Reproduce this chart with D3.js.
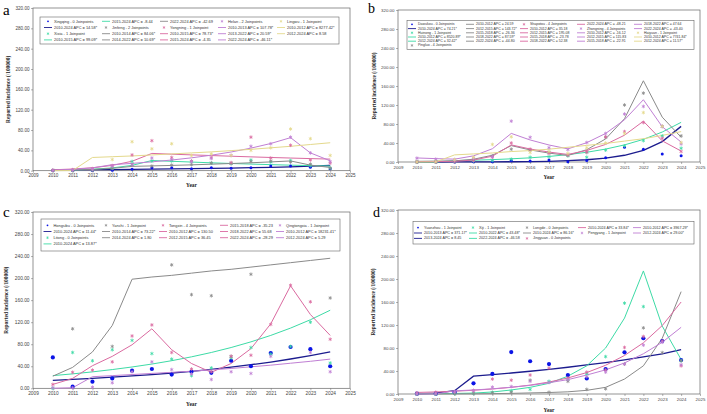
<!DOCTYPE html>
<html>
<head>
<meta charset="utf-8">
<script src="https://cdn.jsdelivr.net/npm/d3@7"></script>
<style>
  body { margin: 0; background: #fff; }
  svg { display: block; }
  text { font-family: "Liberation Sans", Arial, sans-serif; }
</style>
</head>
<body>
<svg id="chart" width="707" height="414"></svg>
<script>
let years = [2010, 2011, 2012, 2013, 2014, 2015, 2016, 2017, 2018, 2019, 2020, 2021, 2022, 2023, 2024]
let xTicks = [2009, 2010, 2011, 2012, 2013, 2014, 2015, 2016, 2017, 2018, 2019, 2020, 2021, 2022, 2023, 2024, 2025]
let yTicks = [0, 40, 80, 120, 160, 200, 240, 280, 320]

// panel a
let xingqingObs = [0.5, 0.5, 0.5, 1, 3, 6, 6, 4, 6, 5, 6, 9, 9, 7, 4]
let xingqingFit = [1.5, 1.7, 2.0, 2.3, 2.6, 3.0, 3.4, 3.9, 4.5, 5.1, 5.9, 6.7, 7.7, 8.9, 10.2]
let xixiaObs = [0.5, 0.5, 2, 5, 18, 19, 19, 18, 15, 14, 21, 17, 20, 10, 5]
let xixiaFit = [0.7, 1.4, 2.8, 5.5, 10.5, 20, 18.5, 17, 15.5, 14.2, 13, 11.9, 10.9, 10, 9.2]
let jinfengObs = [0.5, 0.5, 1, 4, 12, 9, 11, 12, 15, 14, 18, 19, 17, 13, 5]
let jinfengFit = [0.7, 1.4, 2.5, 4.6, 8.5, 9.4, 10.4, 11.5, 12.8, 14.1, 15.6, 17.3, 19.2, 11.0, 6.3]
let yongningObs = [1, 2, 4, 10, 31, 59, 26, 19, 26, 16, 66, 25, 50, 21, 15]
let yongningFit = [1.8, 3.3, 5.8, 10.4, 18.6, 34, 32.5, 31.1, 29.8, 28.5, 27.2, 26, 24.9, 23.8, 22.8]
let helanObs = [0.5, 1, 3, 9, 12, 25, 22, 18, 24, 30, 48, 53, 66, 35, 18]
let helanFit = [1.2, 2.6, 5.5, 11.9, 14.4, 17.4, 21.0, 25.3, 30.5, 36.8, 44.4, 53.5, 65, 35, 19.5]
let lingwuObs = [null, null, null, 22, 57, 43, 53, 30, 33, 30, 40, 45, 82, 63, 30]
let lingwuFit = [0, 0.3, 26, 27.5, 29, 31, 33, 35, 37, 39.5, 42, 45, 48, 51.5, 55]

// panel b
let dawukouObs = [0, 0, 0.2, 0.5, 0.5, 3, 2, 4, 0.5, 3, 9, 31, 27, 17, 13]
let dawukouFit = [0.03, 0.05, 0.1, 0.2, 0.3, 0.5, 0.9, 1.5, 2.7, 4.7, 8.1, 14.2, 24.7, 43, 75]
let huinongObs = [0, 0, 1, 2, 3, 6, 10, 11, 13, 10, 25, 34, 45, 55, 29]
let huinongFit = [0, 0.03, 2.9, 3.8, 5.0, 6.7, 8.8, 11.7, 15.5, 20.5, 27.2, 36, 47.6, 63.1, 83.5]
let pingluoObs = [0.7, 1, 2, 5, 13, 27, 25, 20, 14, 20, 52, 120, 145, 75, 55]
let pingluoFit = [1.4, 1.9, 2.4, 5.8, 14.2, 34.5, 25.4, 18.7, 13.8, 25.9, 48.6, 91.1, 171, 94.4, 52.1]
let shapotouObs = [0, 0, 1, 3, 10, 40, 27, 18, 15, 22, 53, 64, 83, 50, 22]
let shapotouFit = [0.8, 1.0, 1.4, 4.1, 12.2, 36, 27.4, 20.9, 15.9, 24.3, 37, 56.4, 85.9, 44.5, 23]
let zhongningObs = [8, 6, 5, 8, 11, 86, 52, 30, 26, 41, 60, 101, 117, 75, 38]
let zhongningFit = [8.5, 7.1, 6.0, 12.9, 27.9, 60.2, 46.4, 35.8, 27.6, 40.7, 60.1, 88.8, 131.1, 74.2, 42.0]
let haiyuanObs = [0, 0.5, 5, 10, 37, 53, 20, 22, 18, 30, 40, 60, 104, 75, 41]
let haiyuanFit = [0, 0.2, 15, 17, 19, 22, 24, 27, 31, 35, 39, 44, 49, 56, 64]

// panel c
let hongsibuObs = [56, 3, 12, 18, 32, 35, 25, 30, 28, 50, 40, 64, 75, 71, 40]
let hongsibuFit = [14.5, 16.2, 18, 20.1, 22.4, 24.9, 27.8, 30.9, 34.5, 38.4, 42.8, 47.7, 53.2, 59.2, 66]
let litongObs = [0, 65, 50, 70, 87, 63, 53, 23, 37, 55, 74, 62, 76, 120, 46]
let litongFit = [23, 26.2, 29.8, 34, 38.7, 44, 50.1, 57.1, 65, 74, 84.3, 96, 109.3, 124.4, 141.7]
let yanchiObs = [null, 108, null, 76, null, null, 224, 170, 168, 58, 207, null, null, null, 164]
let yanchiFit = [22, 38, 66, 114, 198, 202, 205, 209, 213, 216, 220, 224, 228, 232, 236]
let tongxinObs = [7, 29, 33, 48, 95, 115, 65, 35, 30, 58, 60, 116, 187, 157, 89]
let tongxinFit = [7, 18, 41, 58, 79, 108, 70, 45, 29, 45, 72, 117, 186, 134, 96]
let qingtongxiaObs = [1, 1, 2, 10, 30, 48, 34, 26, 16, 30, 27, 58, null, 65, 30]
let qingtongxiaFit = [0.1, 1, 21, 23, 25, 27, 29, 31, 33.5, 36, 39, 42, 45.5, 49, 53]

// panel d
let yuanzhouObs = [0.5, 0.5, 3, 18.6, 35, 73, 57, 52, 33, 27, 43.5, 72.5, 97, 92, 59]
let yuanzhouFit = [0.3, 1.5, 5.8, 31, 33.6, 36.5, 39.6, 42.9, 46.5, 50.5, 54.7, 59.4, 64.4, 69.8, 77]
let xijiObs = [0, 0, 0.5, 1, 3, 5, 8, 22, 25, 35, 65, 158, 152, null, 58]
let xijiFit = [0.3, 0.5, 0.9, 1.6, 3.5, 7, 11.6, 18.6, 31, 49, 80, 132, 214, 118, 60]
let longdeObs = [0, 0, 0.5, 1, 2, 3, 24, 3, 22, 8, 9, 52, 115, 72, 58]
let longdeFit = [0.05, 0.1, 0.2, 0.3, 0.6, 1.1, 1.9, 2.6, 3.8, 6.4, 11.6, 26, 49, 97, 178]
let jingyuanObs = [2, 3, 4, 6, 26, 24, 33, 45, 28, 38, 42, 81, 100, 92, 49]
let jingyuanFit = [2.7, 3.6, 4.8, 6.5, 8.7, 11.6, 15.5, 20.8, 27.9, 37.3, 50, 67, 89, 119, 160]
let pengyangObs = [0, 0.5, 4, 6, 12, 13, 22, 20, 25, 30, 38, 52, 85, 90, 51]
let pengyangFit = [0.003, 0.1, 5.5, 7, 9, 11.8, 15, 19.6, 25, 33, 42, 54, 70, 90, 116]

// legends: [kind, colour index, text], one array per column
let legendA = [
    [['dot', 0, 'Xingqing - 0 Joinpoints'], ['line', 0, '2010-2024 APC =  14.58*'], ['star', 1, 'Xixia - 1 Joinpoint'], ['line', 1, '2010-2015 APC =  99.09*']],
    [['line', 1, '2015-2024 APC =  -8.44'], ['star', 2, 'Jinfeng - 2 Joinpoints'], ['line', 2, '2010-2014 APC =  84.06*'], ['line', 2, '2014-2022 APC =  10.69*']],
    [['line', 2, '2022-2024 APC =  -42.69'], ['star', 3, 'Yongning - 1 Joinpoint'], ['line', 3, '2010-2015 APC =  78.73*'], ['line', 3, '2015-2024 APC =  -4.35']],
    [['star', 4, 'Helan - 2 Joinpoints'], ['line', 4, '2010-2013 APC =  107.78*'], ['line', 4, '2013-2022 APC =  20.59*'], ['line', 4, '2022-2024 APC =  -46.11*']],
    [['star', 5, 'Lingwu - 1 Joinpoint'], ['line', 5, '2010-2012 APC =  8277.42*'], ['line', 5, '2012-2024 APC =   8.58']]
]
let legendB = [
    [['dot', 0, 'Dawukou - 0 Joinpoints'], ['line', 0, '2010-2024 APC =  74.21*'], ['star', 1, 'Huinong - 1 Joinpoint'], ['line', 1, '2010-2012 APC =  8520.89*'], ['line', 1, '2012-2024 APC =  32.42*'], ['star', 2, 'Pingluo - 4 Joinpoints']],
    [['line', 2, '2010-2012 APC =  24.59'], ['line', 2, '2012-2015 APC =  143.72*'], ['line', 2, '2015-2018 APC =  -26.36'], ['line', 2, '2018-2022 APC =  87.59*'], ['line', 2, '2022-2024 APC =  -44.80']],
    [['star', 3, 'Shapotou - 4 Joinpoints'], ['line', 3, '2010-2012 APC =  35.18'], ['line', 3, '2012-2015 APC =  195.08'], ['line', 3, '2015-2018 APC =  -23.78'], ['line', 3, '2018-2022 APC =  52.38']],
    [['line', 3, '2022-2024 APC =  -48.21'], ['star', 4, 'Zhongning - 4 Joinpoints'], ['line', 4, '2010-2012 APC =  -16.12'], ['line', 4, '2012-2015 APC =  115.83'], ['line', 4, '2015-2018 APC =  -22.91']],
    [['line', 4, '2018-2022 APC =  47.64'], ['line', 4, '2022-2024 APC =  -43.40'], ['star', 5, 'Haiyuan - 1 Joinpoint'], ['line', 5, '2010-2012 APC =  7741.84*'], ['line', 5, '2012-2024 APC =  11.57*']]
]
let legendC = [
    [['dot', 0, 'Hongsibu - 0 Joinpoints'], ['line', 0, '2010-2024 APC =  11.44*'], ['star', 1, 'Litong - 0 Joinpoints'], ['line', 1, '2010-2024 APC =  13.87*']],
    [['star', 2, 'Yanchi - 1 Joinpoint'], ['line', 2, '2010-2014 APC =  73.22*'], ['line', 2, '2014-2024 APC =  1.80']],
    [['star', 3, 'Tongxin - 4 Joinpoints'], ['line', 3, '2010-2012 APC =  130.50'], ['line', 3, '2012-2015 APC =  36.45']],
    [['line', 3, '2015-2018 APC =  -35.23'], ['line', 3, '2018-2022 APC =  55.68'], ['line', 3, '2022-2024 APC =  -28.29']],
    [['star', 4, 'Qingtongxia - 1 Joinpoint'], ['line', 4, '2010-2012 APC =  18231.41*'], ['line', 4, '2012-2024 APC =   5.29']]
]
let legendD = [
    [['dot', 0, 'Yuanzhou - 1 Joinpoint'], ['line', 0, '2010-2013 APC =  371.17*'], ['line', 0, '2013-2024 APC =  8.45']],
    [['star', 1, 'Xiji - 1 Joinpoint'], ['line', 1, '2010-2022 APC =  43.48*'], ['line', 1, '2022-2024 APC =  -46.58']],
    [['star', 2, 'Longde - 0 Joinpoints'], ['line', 2, '2010-2024 APC =  86.16*'], ['star', 3, 'Jingyuan - 0 Joinpoints']],
    [['line', 3, '2010-2024 APC =  33.84*'], ['star', 4, 'Pengyang - 1 Joinpoint']],
    [['line', 4, '2010-2012 APC =  3967.29*'], ['line', 4, '2012-2024 APC =  29.00*']]
]

let colors = ['#1c1c8e', '#3ddba6', '#8a8a8a', '#da6aa0', '#c07fd4', '#e4d98c']
let dotColor = '#0b14e6'

let svg = d3.select('#chart')

let panels = [
    {
        letter: 'a', lx: 3, ly: 15, lsize: 15, x0: 33, x1: 350, yTop: 8, yZero: 170.7, dotR: 1.5, fs: 4.6,
        yLabelX: 8, yearY: 187,
        series: [[xingqingObs, xingqingFit], [xixiaObs, xixiaFit], [jinfengObs, jinfengFit],
                 [yongningObs, yongningFit], [helanObs, helanFit], [lingwuObs, lingwuFit]],
        legend: legendA, box: [40, 17, 339, 44], colX: [54, 112, 170, 228, 287], rowY: [21.3, 27.5, 33.7, 39.9], lfs: 3.9
    },
    {
        letter: 'b', lx: 368, ly: 13, lsize: 14, x0: 398, x1: 700, yTop: 10, yZero: 162, dotR: 1.5, fs: 4.4,
        yLabelX: 374, yearY: 178.5,
        series: [[dawukouObs, dawukouFit], [huinongObs, huinongFit], [pingluoObs, pingluoFit],
                 [shapotouObs, shapotouFit], [zhongningObs, zhongningFit], [haiyuanObs, haiyuanFit]],
        legend: legendB, box: [407, 20.5, 694, 49.5], colX: [418, 476, 530, 587, 644], rowY: [24.3, 28.6, 32.8, 37, 41.2, 45.4], lfs: 3.5
    },
    {
        letter: 'c', lx: 3, ly: 217, lsize: 15, x0: 33, x1: 350, yTop: 212, yZero: 388.3, dotR: 2.1, fs: 4.8,
        yLabelX: 6, yearY: 405.5,
        series: [[hongsibuObs, hongsibuFit], [litongObs, litongFit], [yanchiObs, yanchiFit],
                 [tongxinObs, tongxinFit], [qingtongxiaObs, qingtongxiaFit]],
        legend: legendC, box: [41, 219, 340, 251], colX: [53.5, 112, 169, 230, 286], rowY: [225.3, 231.5, 237.7, 243.9], lfs: 3.9
    },
    {
        letter: 'd', lx: 373, ly: 217, lsize: 14, x0: 398, x1: 700, yTop: 210, yZero: 394, dotR: 2.1, fs: 4.4,
        yLabelX: 373, yearY: 411.5,
        series: [[yuanzhouObs, yuanzhouFit], [xijiObs, xijiFit], [longdeObs, longdeFit],
                 [jingyuanObs, jingyuanFit], [pengyangObs, pengyangFit]],
        legend: legendD, box: [413, 221.5, 694, 244], colX: [424, 479, 533, 588, 643], rowY: [227.6, 233, 238.4], lfs: 3.7
    }
]

let star = d3.symbol().type(d3.symbolAsterisk).size(9)

let drawPanel = (p) => {
    let x = d3.scaleLinear().domain([2009, 2025]).range([p.x0, p.x1])
    let y = d3.scaleLinear().domain([0, 320]).range([p.yZero, p.yTop])
    let g = svg.append('g')

    // panel letter
    g.append('text')
        .attr('x', p.lx).attr('y', p.ly)
        .style('font-family', '"Liberation Serif", "DejaVu Serif", serif')
        .style('font-size', p.lsize + 'px')
        .text(p.letter)

    // axes
    let yAxis = d3.axisLeft(y).tickValues(yTicks).tickSize(2).tickPadding(1.5).tickFormat(d3.format('.2f'))
    let xAxis = d3.axisBottom(x).tickValues(xTicks).tickSize(2).tickPadding(1.5).tickFormat(d3.format('d'))

    let ya = g.append('g').attr('transform', 'translate(' + p.x0 + ',0)').call(yAxis)
    let xa = g.append('g').attr('transform', 'translate(0,' + p.yZero + ')').call(xAxis)
    ;[ya, xa].forEach((a) => {
        a.select('.domain').remove()
        a.selectAll('line').attr('stroke', '#666').attr('stroke-width', 0.5)
        a.selectAll('text').attr('fill', '#444').style('font-size', p.fs + 'px')
    })

    // frame
    g.append('rect')
        .attr('x', p.x0).attr('y', p.yTop)
        .attr('width', p.x1 - p.x0).attr('height', p.yZero - p.yTop)
        .attr('fill', 'none').attr('stroke', '#666').attr('stroke-width', 0.7)

    // axis titles
    g.append('text')
        .attr('transform', 'translate(' + p.yLabelX + ',' + ((p.yTop + p.yZero) / 2) + ') rotate(-90)')
        .attr('text-anchor', 'middle').attr('dominant-baseline', 'central')
        .style('font-family', '"Liberation Serif", serif').style('font-weight', 'bold')
        .style('font-size', '5.4px').attr('fill', '#222')
        .text('Reported incidence (/100000)')
    g.append('text')
        .attr('x', (p.x0 + p.x1) / 2).attr('y', p.yearY)
        .attr('text-anchor', 'middle')
        .style('font-family', '"Liberation Serif", serif').style('font-weight', 'bold')
        .style('font-size', '5.4px').attr('fill', '#222')
        .text('Year')

    let plot = g.append('g')
    let line = d3.line().x((d, i) => x(years[i])).y((d) => y(d))

    // fitted joinpoint lines, drawn first
    p.series.forEach((s, k) => {
        plot.append('path')
            .attr('d', line(s[1]))
            .attr('fill', 'none')
            .attr('stroke', colors[k])
            .attr('stroke-width', k === 0 ? 1.3 : 1)
    })

    // observed values
    p.series.forEach((s, k) => {
        let pts = s[0].map((v, i) => [years[i], v]).filter((d) => d[1] !== null)
        if (k === 0) {
            plot.selectAll(null).data(pts).enter().append('circle')
                .attr('cx', (d) => x(d[0])).attr('cy', (d) => y(d[1]))
                .attr('r', p.dotR).attr('fill', dotColor)
        } else {
            plot.selectAll(null).data(pts).enter().append('path')
                .attr('d', star)
                .attr('transform', (d) => 'translate(' + x(d[0]) + ',' + y(d[1]) + ')')
                .attr('fill', 'none').attr('stroke', colors[k]).attr('stroke-width', 0.8)
        }
    })

    // legend
    let b = p.box
    let lg = g.append('g')
    lg.append('rect')
        .attr('x', b[0]).attr('y', b[1]).attr('width', b[2] - b[0]).attr('height', b[3] - b[1])
        .attr('fill', '#fff').attr('stroke', '#666').attr('stroke-width', 0.6)
    p.legend.forEach((col, c) => {
        col.forEach((item, r) => {
            let tx = p.colX[c]
            let ty = p.rowY[r]
            if (item[0] === 'line') {
                lg.append('line')
                    .attr('x1', tx - 10).attr('x2', tx - 2).attr('y1', ty).attr('y2', ty)
                    .attr('stroke', colors[item[1]]).attr('stroke-width', 0.9)
            } else if (item[0] === 'dot') {
                lg.append('circle').attr('cx', tx - 6).attr('cy', ty).attr('r', 0.9).attr('fill', dotColor)
            } else {
                lg.append('path').attr('d', d3.symbol().type(d3.symbolAsterisk).size(5))
                    .attr('transform', 'translate(' + (tx - 6) + ',' + ty + ')')
                    .attr('fill', 'none').attr('stroke', colors[item[1]]).attr('stroke-width', 0.6)
            }
            lg.append('text')
                .attr('x', tx).attr('y', ty).attr('dominant-baseline', 'central')
                .style('font-size', p.lfs + 'px').attr('fill', '#333')
                .text(item[2])
        })
    })
}

panels.forEach(drawPanel)
</script>
</body>
</html>
